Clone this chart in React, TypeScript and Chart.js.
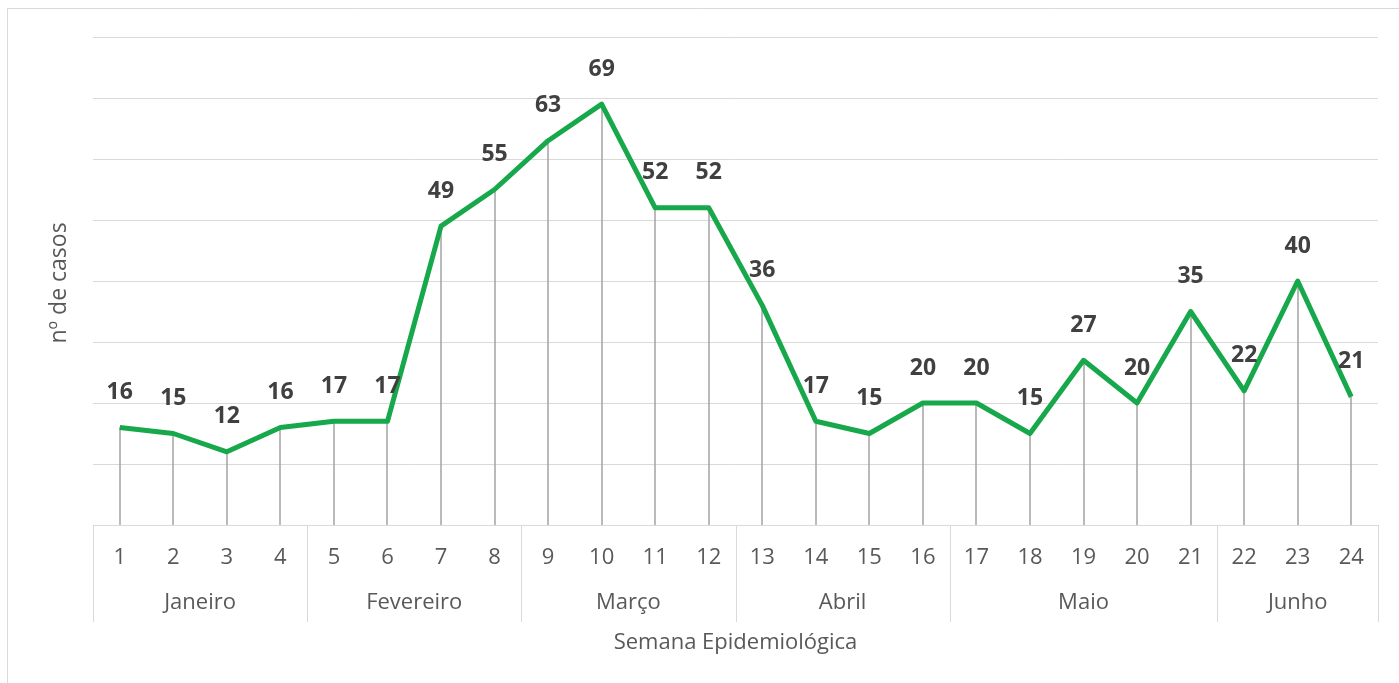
import React, { useEffect, useRef } from "react";
import { Chart, registerables } from "chart.js";

Chart.register(...registerables);

const weeks: string[] = ["1","2","3","4","5","6","7","8","9","10","11","12","13","14","15","16","17","18","19","20","21","22","23","24"];
const cases: number[] = [16, 15, 12, 16, 17, 17, 49, 55, 63, 69, 52, 52, 36, 17, 15, 20, 20, 15, 27, 20, 35, 22, 40, 21];
const months: string[] = ["Janeiro", "Fevereiro", "Março", "Abril", "Maio", "Junho"];
const weeksPerMonth: number[] = [4, 4, 4, 4, 5, 3];
const yTitle = "nº de casos";
const xTitle = "Semana Epidemiológica";

const W = 1399;
const H = 683;
const AXIS_FONT = "22px 'Open Sans'";
const YTITLE_FONT = "23px 'Open Sans'";
const LABEL_FONT = "bold 23px 'Open Sans'";
const GRID = "#d9d9d9";

const overlay = {
  id: "overlay",
  beforeDraw(chart: any) {
    const ctx = chart.ctx;
    ctx.save();
    ctx.fillStyle = "#ffffff";
    ctx.fillRect(0, 0, chart.width, chart.height);
    ctx.strokeStyle = GRID;
    ctx.lineWidth = 1;
    ctx.beginPath();
    ctx.moveTo(7.5, chart.height);
    ctx.lineTo(7.5, 8.5);
    ctx.lineTo(chart.width, 8.5);
    ctx.stroke();
    ctx.restore();
  },
  beforeDatasetsDraw(chart: any) {
    const ctx = chart.ctx;
    const meta = chart.getDatasetMeta(0);
    const bottom = chart.chartArea.bottom;
    ctx.save();
    ctx.strokeStyle = "#a3a3a3";
    ctx.lineWidth = 1.5;
    meta.data.forEach((pt: any) => {
      const x = Math.round(pt.x);
      ctx.beginPath();
      ctx.moveTo(x, pt.y);
      ctx.lineTo(x, bottom);
      ctx.stroke();
    });
    ctx.restore();
  },
  afterDatasetsDraw(chart: any) {
    const ctx = chart.ctx;
    const meta = chart.getDatasetMeta(0);
    ctx.save();
    ctx.font = LABEL_FONT;
    ctx.fillStyle = "#404040";
    ctx.textAlign = "center";
    ctx.textBaseline = "middle";
    meta.data.forEach((pt: any, i: number) => {
      ctx.fillText(String(cases[i]), pt.x, pt.y - 35);
    });
    ctx.restore();
  },
  afterDraw(chart: any) {
    const ctx = chart.ctx;
    const xs = chart.scales.x;
    const area = chart.chartArea;
    const bottom = area.bottom;
    const step = xs.getPixelForValue(1) - xs.getPixelForValue(0);
    ctx.save();
    ctx.font = AXIS_FONT;
    ctx.fillStyle = "#595959";
    ctx.textAlign = "center";
    ctx.textBaseline = "middle";
    weeks.forEach((w, i) => {
      ctx.fillText(w, xs.getPixelForValue(i), bottom + 33);
    });
    // month separators and labels
    ctx.strokeStyle = GRID;
    ctx.lineWidth = 1;
    let start = 0;
    const boundary = (idx: number) => Math.round(xs.getPixelForValue(idx) - step / 2) + 0.5;
    ctx.beginPath();
    ctx.moveTo(boundary(0), bottom);
    ctx.lineTo(boundary(0), bottom + 97);
    ctx.stroke();
    months.forEach((m, k) => {
      const end = start + weeksPerMonth[k];
      const left = xs.getPixelForValue(start) - step / 2;
      const right = xs.getPixelForValue(end - 1) + step / 2;
      ctx.fillText(m, (left + right) / 2, bottom + 78);
      const bx = boundary(end);
      ctx.beginPath();
      ctx.moveTo(bx, bottom);
      ctx.lineTo(bx, bottom + 97);
      ctx.stroke();
      start = end;
    });
    // x axis line
    ctx.beginPath();
    ctx.moveTo(area.left, bottom + 0.5);
    ctx.lineTo(area.right, bottom + 0.5);
    ctx.stroke();
    // axis titles
    ctx.fillText(xTitle, (area.left + area.right) / 2, bottom + 118);
    ctx.font = YTITLE_FONT;
    ctx.translate(59, (area.top + area.bottom) / 2 + 2);
    ctx.rotate(-Math.PI / 2);
    ctx.fillText(yTitle, 0, 0);
    ctx.restore();
  },
};

export default function App() {
  const ref = useRef<HTMLCanvasElement | null>(null);
  useEffect(() => {
    if (!ref.current) return;
    const chart = new Chart(ref.current, {
      type: "line",
      data: {
        labels: weeks,
        datasets: [
          {
            data: cases,
            borderColor: "#17a84b",
            borderWidth: 5,
            pointRadius: 0,
            pointHoverRadius: 0,
            tension: 0,
            fill: false,
            borderJoinStyle: "round",
          },
        ],
      },
      options: {
        animation: false,
        responsive: false,
        devicePixelRatio: 1,
        events: [],
        layout: { padding: { top: 37, right: 21, left: 0, bottom: 0 } },
        plugins: {
          legend: { display: false },
          tooltip: { enabled: false },
          title: { display: false },
        },
        scales: {
          x: {
            type: "category",
            offset: true,
            grid: { display: false },
            border: { display: false },
            ticks: { display: false },
            afterFit: (s: any) => {
              s.height = H - 525;
            },
          },
          y: {
            min: 0,
            max: 80,
            ticks: { display: false, stepSize: 10 },
            grid: { color: GRID, lineWidth: 1, drawTicks: false },
            border: { display: false },
            afterFit: (s: any) => {
              s.width = 93;
            },
          },
        },
      },
      plugins: [overlay],
    });
    return () => chart.destroy();
  }, []);
  return (
    <div style={{ position: "fixed", left: 0, top: 0, width: W, height: H, overflow: "hidden", background: "#fff" }}>
      <canvas ref={ref} width={W} height={H} style={{ display: "block" }} />
    </div>
  );
}
